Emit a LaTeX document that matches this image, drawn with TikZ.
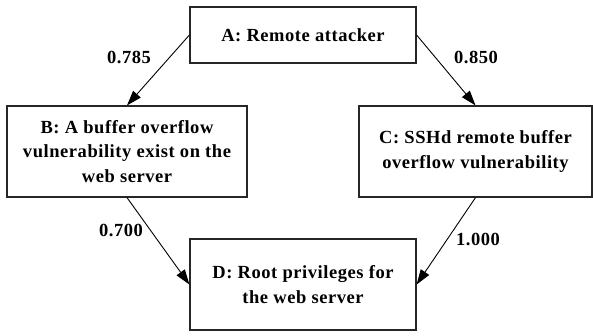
\documentclass[tikz,border=0pt]{standalone}
\usepackage{fontspec}
\setmainfont{Liberation Serif}[LetterSpace=3]
\usetikzlibrary{arrows.meta}

\tikzset{
  box/.style={draw=black!85, line width=1.2pt, inner sep=0pt, align=center,
              font=\bfseries\fontsize{18.5}{24.5}\selectfont},
  link/.style={line width=0.9pt, -{Triangle[length=15pt,width=10pt]}},
  prob/.style={font=\bfseries\fontsize{18.5}{20}\selectfont, inner sep=0pt}
}

\begin{document}
\begin{tikzpicture}[x=1pt,y=-1pt]
  \useasboundingbox (0,0) rectangle (593,335);

  % events
  \node[box, minimum width=226pt, minimum height=56pt] (A) at (303,35)
    {A: Remote attacker};
  \node[box, minimum width=240pt, minimum height=91pt] (B) at (127,151.5)
    {B: A buffer overflow\\ vulnerability exist on the\\ web server};
  \node[box, minimum width=233pt, minimum height=91pt] (C) at (475.5,151.5)
    {C: SSHd remote buffer\\ overflow vulnerability};
  \node[box, minimum width=226pt, minimum height=91pt] (D) at (303,284.5)
    {D: Root privileges for\\ the web server};

  % transitions
  \draw[link] (A.west) -- (B.north);
  \draw[link] (A.east) -- (C.north);
  \draw[link] (B.south) -- (D.west);
  \draw[link] (C.south) -- (D.east);

  % transition probabilities
  \node[prob] (pab) at (129,57) {0.785};
  \node[prob] (pac) at (476,57) {0.850};
  \node[prob] (pbd) at (121,230) {0.700};
  \node[prob] (pcd) at (478,239) {1.000};
\end{tikzpicture}
\end{document}
